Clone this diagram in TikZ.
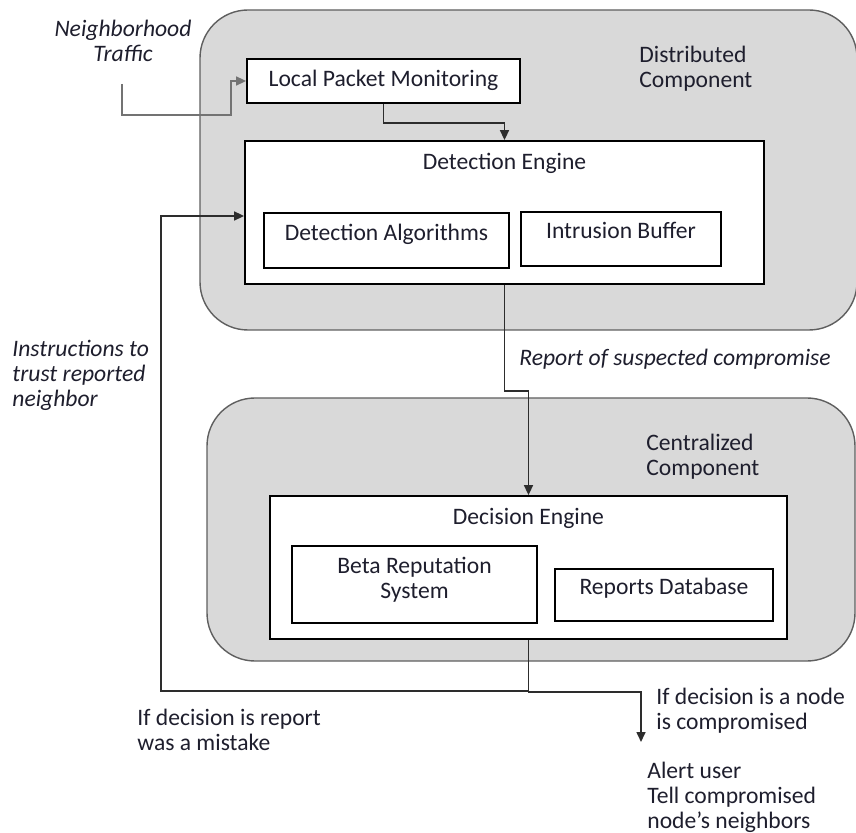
\documentclass[tikz,border=0pt]{standalone}
\usepackage{fontspec}
\setmainfont{Carlito}
\usetikzlibrary{arrows.meta,positioning}
\definecolor{panel}{RGB}{217,217,217}
\definecolor{paneledge}{RGB}{95,95,95}
\definecolor{wire}{RGB}{45,45,45}
\definecolor{wiregray}{RGB}{115,115,115}
\definecolor{ink}{RGB}{30,30,45}
\newcommand{\figfont}{\fontsize{11.8}{12.5}\selectfont}
\tikzset{
  panelbox/.style={rectangle, rounded corners=24pt, draw=paneledge, line width=0.7pt,
                   fill=panel, inner sep=0pt},
  enginebox/.style={rectangle, draw=black, line width=0.9pt, fill=white,
                    minimum height=71.5pt, inner sep=0pt},
  subbox/.style={rectangle, draw=black, line width=0.9pt, fill=white, align=center,
                 text=ink, text depth=8.5pt, inner sep=2pt},
  enginetitle/.style={anchor=north, inner sep=0pt, yshift=-6.5pt, text=ink},
  txt/.style={align=left, inner sep=0pt, text=ink},
  itxt/.style={txt, font=\figfont\itshape},
  arr/.style={-{Triangle[length=5pt,width=4.5pt]}, line width=0.8pt, color=wire},
  arrgray/.style={arr, color=wiregray},
}

\begin{document}
\begin{tikzpicture}[x=0.5pt, y=-0.5pt, font=\figfont]
  \useasboundingbox (0,0) rectangle (856,833);
  \node[panelbox, minimum width=328.5pt, minimum height=160pt] (dist) at (528.5,170) {};
  \node[panelbox, minimum width=324pt, minimum height=131.5pt] (cent) at (531,529.5) {};
  \node[txt, anchor=north west] (distlbl) at (639,46) {Distributed\\Component};
  \node[txt, anchor=north west] (centlbl) at (646,434) {Centralized\\Component};
  \node[subbox, minimum width=136.5pt, minimum height=22pt, text depth=2.5pt] (lpm) at (383.5,81) {Local Packet Monitoring};
  \node[enginebox, minimum width=259.5pt, label={[enginetitle]north:Detection Engine}] (detect) at (504.5,212.5) {};
  \node[subbox, minimum width=122.5pt, minimum height=27.5pt] (algo) at (386.5,240.5) {Detection Algorithms};
  \node[subbox, minimum width=100pt, minimum height=27pt] (intr) at (621,239) {Intrusion Buffer};
  \node[enginebox, minimum width=258.5pt, label={[enginetitle]north:Decision Engine}] (decide) at (528.5,567.5) {};
  \node[subbox, minimum width=122.5pt, minimum height=38.5pt, text depth=7pt] (beta) at (414.5,584.5) {Beta Reputation\\System};
  \node[subbox, minimum width=109pt, minimum height=26pt] (reports) at (664,595) {Reports Database};
  \node[itxt, anchor=north, align=center] (traffic) at (123,20) {Neighborhood\\Traffic};
  \node[itxt, anchor=west] (reportlbl) at (519,359) {Report of suspected compromise};
  \node[itxt, anchor=north west] (trustlbl) at (12,340) {Instructions to\\trust reported\\neighbor};
  \node[txt, anchor=north west] (mistakelbl) at (137,709) {If decision is report\\was a mistake};
  \node[txt, anchor=north west] (nodelbl) at (656,688) {If decision is a node\\is compromised};
  \node[txt, anchor=north west] (alertlbl) at (647,762) {Alert user\\Tell compromised\\node’s neighbors};
  \coordinate (trafficstart) at (122,84);
  \coordinate (trafficbend) at (231,115);
  \coordinate (loopx) at (161,216);
  \coordinate (alertend) at (641,742);
  \draw[arrgray] (trafficstart) |- (trafficbend) |- (lpm.west);
  \draw[arr] (lpm.south) -- ++(0,19) -| (detect.north);
  \draw[arr] (detect.south) -- ++(0,106) -| (decide.north);
  \draw[arr] (decide.south) -- ++(0,51) -| (loopx) -- (loopx -| detect.west);
  \draw[arr] (decide.south) -- ++(0,52) -| (alertend);
\end{tikzpicture}
\end{document}
